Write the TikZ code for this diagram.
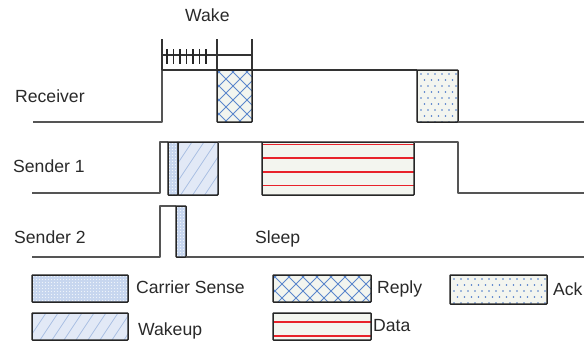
\documentclass[tikz,border=0pt]{standalone}
\usepackage{fontspec}
\setmainfont{Liberation Sans}
\definecolor{txt}{HTML}{2A2A2A}
\definecolor{offw}{HTML}{F3F5EF}
\definecolor{csfill}{HTML}{C7D6EF}
\definecolor{wkfill}{HTML}{E2E9F6}
\definecolor{wkline}{HTML}{A9BFE3}
\definecolor{xhline}{HTML}{5B86CC}
\definecolor{dotc}{HTML}{4A78C8}
\definecolor{redl}{HTML}{E8222A}
\definecolor{sigc}{HTML}{555555}
\newcommand\xhbox[4]{%
  \begin{scope}
    \clip (#1,#2) rectangle (#3,#4);
    \fill[offw] (#1,#2) rectangle (#3,#4);
    \foreach \c in {-70,-56,...,112} {
      \draw[xhline,line width=0.8pt] ({#1+\c},#2) -- ({#1+\c+60},{#2+60});
      \draw[xhline,line width=0.8pt] ({#1+\c},{#2+60}) -- ({#1+\c+60},#2);
    }
  \end{scope}
  \draw[boxst] (#1,#2) rectangle (#3,#4);}
\newcommand\wkbox[4]{%
  \begin{scope}
    \clip (#1,#2) rectangle (#3,#4);
    \fill[wkfill] (#1,#2) rectangle (#3,#4);
    \foreach \c in {-50,-38,...,110} {
      \draw[wkline,line width=0.8pt] ({#1+\c},{#2+60}) -- ({#1+\c+40},#2);
    }
  \end{scope}
  \draw[boxst] (#1,#2) rectangle (#3,#4);}
\newcommand\ackbox[4]{%
  \begin{scope}
    \clip (#1,#2) rectangle (#3,#4);
    \fill[offw] (#1,#2) rectangle (#3,#4);
    \foreach \i in {0,...,14} {
      \foreach \j in {0,...,4} {
        \fill[dotc] ({#1+4+\i*7},{#2+4+\j*12}) circle (0.85);
        \fill[dotc] ({#1+7.5+\i*7},{#2+10+\j*12}) circle (0.85);
      }
    }
  \end{scope}
  \draw[boxst] (#1,#2) rectangle (#3,#4);}
\newcommand\csbox[4]{%
  \begin{scope}
    \clip (#1,#2) rectangle (#3,#4);
    \fill[csfill] (#1,#2) rectangle (#3,#4);
    \foreach \i in {0,...,32} {
      \foreach \j in {0,...,17} {
        \fill[white!70!csfill] ({#1+1.5+\i*3},{#2+1.5+\j*3}) circle (0.55);
      }
    }
  \end{scope}
  \draw[boxst] (#1,#2) rectangle (#3,#4);}
\newcommand\databox[5]{%
  \begin{scope}
    \clip (#1,#2) rectangle (#3,#4);
    \fill[offw] (#1,#2) rectangle (#3,#4);
    \foreach \k in {0,...,3} {
      \draw[redl,line width=1.6pt] (#1,{#2+#5+\k*13.7}) -- (#3,{#2+#5+\k*13.7});
    }
  \end{scope}
  \draw[boxst] (#1,#2) rectangle (#3,#4);}
\begin{document}
\begin{tikzpicture}[x=1pt,y=-1pt,
  lbl/.style={inner sep=0pt,text=txt,font=\fontsize{17.6}{20}\selectfont},
  sig/.style={draw=sigc,line width=1.8pt,line join=round},
  boxst/.style={draw=black!85,line width=1.5pt,rounded corners=0.6pt},
  brk/.style={draw=black!80,line width=1.4pt},
  tick/.style={draw=black!85,line width=1.5pt}]
\useasboundingbox (0,0) rectangle (584,341);
\fill[white] (0,0) rectangle (584,341);

% labels
\node[lbl,anchor=base west] (wake) at (185,21.5) {Wake};
\node[lbl,anchor=base west] (rec) at (15,102) {Receiver};
\node[lbl,anchor=base west] (s1) at (13,172) {Sender 1};
\node[lbl,anchor=base west] (s2) at (14,243) {Sender 2};
\node[lbl,anchor=base west] (sleep) at (255,243) {Sleep};

% wake bracket
\draw[brk] (162,39) -- (162,70);
\draw[brk] (217,39) -- (217,70);
\draw[brk] (252,39) -- (252,70);
\draw[brk] (162,55) -- (252,55);
\foreach \x in {167,173.5,...,207} \draw[tick] (\x,49) -- (\x,64);

% receiver
\draw[sig] (33,122) -- (162,122) -- (162,70);
\draw[brk] (162,70) -- (417,70);
\xhbox{217}{70}{252}{122}
\ackbox{417}{70}{458}{122}
\draw[sig] (458,122) -- (584,122);

% sender 1
\draw[sig] (32,193) -- (160,193) -- (160,142) -- (168,142);
\csbox{168}{142}{178}{195}
\wkbox{178}{142}{218}{195}
\draw[sig] (218,142) -- (262,142);
\databox{262}{142}{414}{195}{2.5}
\draw[sig] (414,142) -- (458,142) -- (458,193) -- (584,193);

% sender 2
\draw[sig] (32,257) -- (160,257) -- (160,206) -- (176,206);
\csbox{176}{206}{186}{257}
\draw[sig] (186,257) -- (584,257);

% legend
\csbox{32}{275}{128}{302}
\node[lbl,anchor=base west] (lcs) at (136,293) {Carrier Sense};
\wkbox{32}{313}{128}{340}
\node[lbl,anchor=base west] (lwk) at (138,335) {Wakeup};
\xhbox{273}{275}{371}{302}
\node[lbl,anchor=base west] (lrp) at (377,293) {Reply};
\databox{273}{313}{371}{340}{9}
\node[lbl,anchor=base west] (ldt) at (373,331.5) {Data};
\ackbox{450}{275}{547}{304}
\node[lbl,anchor=base west] (lak) at (553,295) {Ack};
\end{tikzpicture}
\end{document}
